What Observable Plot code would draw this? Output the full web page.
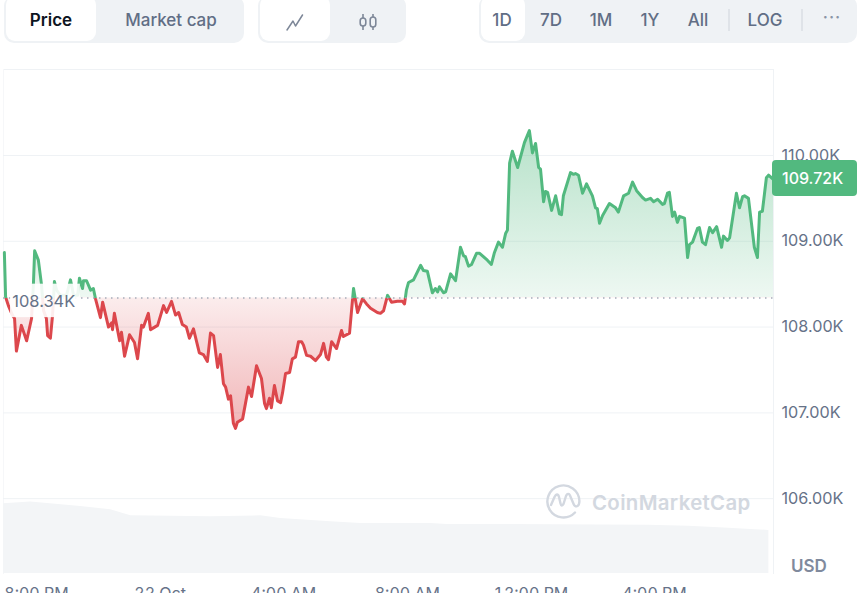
<!DOCTYPE html>
<html>
<head>
<meta charset="utf-8">
<script src="https://cdn.jsdelivr.net/npm/d3@7"></script>
<script src="https://cdn.jsdelivr.net/npm/@observablehq/plot@0.6"></script>
<style>
html,body{margin:0;padding:0;background:#fff;width:860px;height:593px;overflow:hidden;font-family:Inter,sans-serif}
#chart{position:absolute;left:0;top:0}
.group{position:absolute;top:-4px;height:47px;background:#eff2f5;border-radius:10px}
.active{position:absolute;top:-4px;height:45px;background:#fff;border-radius:9px}
.btn{position:absolute;top:0;height:41px;line-height:41px;transform:translateX(-50%);font-size:17px;font-weight:500;color:#616e85;white-space:nowrap}
.sep{position:absolute;top:9px;width:2px;height:22px;background:#dfe3e8}
.abs{position:absolute}
</style>
</head>
<body>
<div id="chart"></div>
<div id="ui"></div>
<script>
const hours = [-1.04,-1.00,-0.91,-0.78,-0.71,-0.65,-0.49,-0.32,-0.16,-0.10,-0.06,0.06,0.16,0.23,0.32,0.36,0.45,0.52,0.58,0.65,0.78,0.97,1.10,1.20,1.33,1.39,1.49,1.52,1.62,1.75,1.84,1.91,2.07,2.14,2.33,2.43,2.46,2.52,2.69,2.75,2.85,3.01,3.17,3.27,3.40,3.46,3.62,3.69,3.92,4.11,4.21,4.37,4.50,4.60,4.72,4.85,4.95,5.08,5.27,5.40,5.53,5.63,5.73,5.86,5.95,6.05,6.12,6.21,6.28,6.37,6.44,6.50,6.67,6.86,6.96,7.12,7.28,7.38,7.44,7.54,7.60,7.70,7.80,7.90,7.96,8.06,8.19,8.28,8.38,8.48,8.58,8.64,8.74,8.87,9.03,9.19,9.29,9.38,9.45,9.55,9.71,9.87,9.93,10.13,10.26,10.39,10.55,10.68,10.81,11.03,11.13,11.23,11.36,11.49,11.68,11.84,11.91,11.97,12.04,12.20,12.43,12.52,12.65,12.81,12.91,12.98,13.04,13.17,13.24,13.40,13.56,13.72,13.82,13.88,13.98,14.08,14.24,14.34,14.59,14.72,14.82,14.95,15.08,15.18,15.24,15.31,15.40,15.57,15.79,15.95,16.05,16.15,16.25,16.31,16.41,16.47,16.54,16.67,16.80,16.92,16.99,17.05,17.28,17.38,17.44,17.54,17.67,17.80,17.99,18.09,18.15,18.22,18.32,18.54,18.74,18.83,19.00,19.16,19.29,19.42,19.61,19.71,19.87,19.97,20.10,20.26,20.32,20.42,20.48,20.58,20.65,20.74,20.81,20.97,21.07,21.13,21.23,21.39,21.45,21.55,21.65,21.78,21.88,22.01,22.17,22.23,22.36,22.43,22.65,22.75,22.85,22.91,23.04,23.23,23.33,23.40,23.49,23.62,23.69,23.85];
const prices = [108.87,108.35,108.25,108.14,108.10,107.72,108.02,107.84,108.10,108.50,108.89,108.78,108.50,108.19,108.10,107.90,107.87,108.14,108.53,108.43,108.37,108.37,108.55,108.37,108.37,108.57,108.45,108.54,108.54,108.43,108.45,108.33,108.11,108.29,108.00,108.05,107.97,108.16,107.84,107.94,107.66,107.91,107.82,107.63,108.02,108.00,108.16,107.97,108.02,108.25,108.17,108.30,108.14,108.17,108.03,108.00,107.87,107.98,107.70,107.68,107.60,107.93,107.90,107.53,107.68,107.34,107.30,107.16,107.20,106.88,106.82,106.89,106.93,107.30,107.19,107.55,107.40,107.11,107.05,107.17,107.06,107.32,107.14,107.12,107.23,107.46,107.47,107.63,107.65,107.83,107.83,107.79,107.67,107.66,107.61,107.68,107.81,107.65,107.62,107.83,107.75,107.96,107.89,107.93,108.45,108.17,108.33,108.27,108.22,108.17,108.16,108.19,108.37,108.29,108.30,108.30,108.27,108.43,108.52,108.55,108.72,108.66,108.65,108.40,108.45,108.41,108.47,108.40,108.41,108.62,108.54,108.93,108.83,108.82,108.71,108.73,108.86,108.86,108.78,108.73,108.87,108.99,108.93,109.09,109.13,109.91,110.05,109.86,110.15,110.29,110.03,110.14,109.86,109.84,109.46,109.58,109.57,109.36,109.53,109.32,109.31,109.53,109.80,109.78,109.79,109.77,109.56,109.67,109.53,109.39,109.38,109.21,109.30,109.44,109.39,109.34,109.53,109.56,109.69,109.59,109.51,109.48,109.50,109.46,109.49,109.43,109.44,109.56,109.57,109.29,109.34,109.22,109.29,109.27,108.81,108.96,108.99,109.15,109.16,108.99,108.96,109.16,109.10,109.17,108.93,109.06,109.01,109.04,109.56,109.39,109.52,109.53,109.50,108.93,108.81,109.34,109.35,109.74,109.77,109.72];
const volumeHours = [-1.07,-0.19,1.43,2.40,3.05,5.64,7.26,7.90,9.52,10.49,12.75,13.30,15.00,19.80,21.10,22.10,23.70];
const volumeTops  = [105.94,105.96,105.91,105.87,105.80,105.79,105.80,105.77,105.73,105.71,105.71,105.70,105.70,105.69,105.68,105.66,105.63];
const volumeFloor = 105.128;
const baseline = 108.34;
const lastPrice = "109.72K";
const yTicks = [106,107,108,109,110];
const xTicks = [0,4,8,12,16,20];
const xLabels = ["8:00 PM","22 Oct","4:00 AM","8:00 AM","12:00 PM","4:00 PM"];
const labelMask = {x1:-0.84,x2:1.42,y1:108.11,y2:108.50};
const green = "#52b97f", red = "#dc474c";

const series = hours.map((h,i)=>({h,p:prices[i]}));
const volume = volumeHours.map((h,i)=>({h,v:volumeTops[i]}));

function gradients(index,{y}){
  const top=y(d3.max(prices)), bot=y(d3.min(prices)), b=(y(baseline)-top)/(bot-top);
  const defs=d3.create("svg:defs");
  const line=defs.append("linearGradient").attr("id","priceLine").attr("gradientUnits","userSpaceOnUse")
    .attr("x1",0).attr("x2",0).attr("y1",top).attr("y2",bot);
  [[0,green],[b,green],[b,red],[1,red]].forEach(([o,c])=>line.append("stop").attr("offset",o).attr("stop-color",c));
  const area=defs.append("linearGradient").attr("id","priceArea").attr("gradientUnits","userSpaceOnUse")
    .attr("x1",0).attr("x2",0).attr("y1",top).attr("y2",bot);
  [[0,green,.42],[b,green,.1],[b,red,.1],[1,red,.4]].forEach(([o,c,a])=>area.append("stop").attr("offset",o).attr("stop-color",c).attr("stop-opacity",a));
  return defs.node();
}

const plot = Plot.plot({
  width:860,height:593,
  marginLeft:3,marginRight:87,marginTop:69,marginBottom:20,
  style:{background:"transparent",color:"#667288",fontFamily:"Inter, sans-serif",fontSize:"16px",overflow:"hidden"},
  x:{domain:[-1.068,23.85],label:null},
  y:{domain:[105.128,111.002],label:null},
  marks:[
    gradients,
    Plot.frame({anchor:"top",stroke:"#eff2f5"}),
    Plot.frame({anchor:"right",stroke:"#eff2f5"}),
    Plot.frame({anchor:"left",stroke:"#f6f7f9"}),
    Plot.gridY(yTicks,{stroke:"#eff2f5",strokeOpacity:1}),
    Plot.areaY(volume,{x:"h",y1:volumeFloor,y2:"v",fill:"#f3f5f7",curve:"linear"}),
    Plot.areaY(series,{x:"h",y1:baseline,y2:"p",fill:"url(#priceArea)"}),
    Plot.line(series,{x:"h",y:"p",stroke:"url(#priceLine)",strokeWidth:3,strokeLinejoin:"round"}),
    Plot.ruleY([baseline],{stroke:"#a5adba",strokeWidth:1.5,strokeDasharray:"1.5 4.5"}),
    Plot.rect([labelMask],{x1:"x1",x2:"x2",y1:"y1",y2:"y2",fill:"#fff",fillOpacity:.9}),
    Plot.text([baseline],{x:()=>hours[0],y:d=>d,text:d=>(d).toFixed(2)+"K",dx:8,dy:4,textAnchor:"start",fontSize:16.4,fill:"#667288"}),
    Plot.axisY({anchor:"right",ticks:yTicks,tickSize:0,tickPadding:8,fontSize:16.2,fontVariant:"normal",tickFormat:d=>d.toFixed(2)+"K",label:null}),
    Plot.axisX({anchor:"bottom",ticks:xTicks,tickSize:0,tickPadding:14,fontSize:16,tickFormat:d=>xLabels[xTicks.indexOf(d)],label:null})
  ]
});
document.getElementById("chart").append(plot);

const buttons1=[["Price",51,"#0d1421",600],["Market cap",171,"#616e85",500]];
const buttons3=[["1D",502],["7D",551],["1M",601],["1Y",650],["All",698],["LOG",765]];
const groups=[[4,240],[258,148],[479,378]];
const actives=[[6,90],[260,70],[481,44]];
const seps=[729,802];
let h="";
groups.forEach(([l,w])=>h+=`<div class="group" style="left:${l}px;width:${w}px"></div>`);
actives.forEach(([l,w])=>h+=`<div class="active" style="left:${l}px;width:${w}px"></div>`);
buttons1.forEach(([t,x,c,fw])=>h+=`<div class="btn" style="left:${x}px;color:${c};font-weight:${fw}">${t}</div>`);
buttons3.forEach(([t,x])=>h+=`<div class="btn" style="left:${x}px">${t}</div>`);
seps.forEach(x=>h+=`<div class="sep" style="left:${x-1}px"></div>`);
h+=`<div class="btn" style="left:832px;top:-3px;letter-spacing:1px;color:#8a94a6">···</div>`;
h+=`<svg class="abs" style="left:285px;top:12px" width="20" height="20" fill="none" stroke="#7d8798" stroke-width="1.5" stroke-linecap="round" stroke-linejoin="round"><path d="M2 18 L8 9 L10.5 14 L17.5 3"/></svg>`;
h+=`<svg class="abs" style="left:357px;top:12px" width="22" height="22" fill="none" stroke="#7d8798" stroke-width="1.6"><path d="M6 2V6M6 14V18M16 2V5M16 15V18"/><rect x="3.2" y="6" width="5.6" height="8" rx="2.8"/><rect x="13.2" y="5" width="5.6" height="10" rx="2.8"/></svg>`;
h+=`<div class="abs" style="left:772px;top:160px;width:85px;height:36px;background:${green};border-radius:4px;color:#fff;font-size:16px;font-weight:500;line-height:36px;text-indent:10px">${lastPrice}</div>`;
h+=`<div class="abs" style="left:791px;top:556px;font-size:17px;font-weight:600;color:#808a9d;line-height:20px">USD</div>`;
h+=`<svg class="abs" style="left:545px;top:483px" width="37" height="37" fill="none" stroke="#d3d8e0" stroke-width="2.4" stroke-linecap="round" stroke-linejoin="round"><path d="M30 29.5 A16 16 0 1 1 34.4 18 C34.4 24 30 25 28.6 21 L25 12.5 C24 10 22 10.500 21 13 L18.500 21 C17.500 23 16 23 15.500 20.500 L14 14 C13 10.500 11 11 9.500 14 L6 22"/></svg>`;
h+=`<div class="abs" style="left:592px;top:488px;font-size:20.4px;font-weight:600;color:#d3d8e0;line-height:30px;letter-spacing:.35px;white-space:nowrap">CoinMarketCap</div>`;
document.getElementById("ui").innerHTML=h;
</script>
</body>
</html>
